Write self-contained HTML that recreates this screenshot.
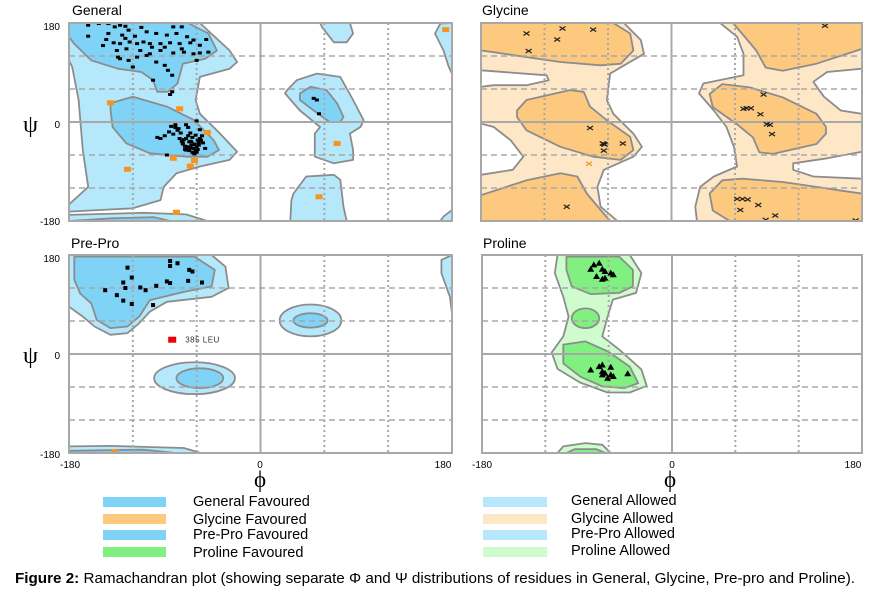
<!DOCTYPE html>
<html><head><meta charset="utf-8">
<style>
html,body{margin:0;padding:0;background:#fff;width:871px;height:590px;overflow:hidden}
svg{display:block;font-family:"Liberation Sans",Arial,sans-serif}
</style></head>
<body>
<svg id="chart" width="871" height="590" viewBox="0 0 871 590" xmlns="http://www.w3.org/2000/svg">
<defs>
<clipPath id="cG"><rect x="69" y="23" width="383" height="198"/></clipPath>
<clipPath id="cY"><rect x="481" y="23" width="381" height="198"/></clipPath>
<clipPath id="cP"><rect x="69" y="255" width="383" height="198"/></clipPath>
<clipPath id="cR"><rect x="482" y="255" width="380" height="198"/></clipPath>
</defs>
<g id="panels"></g>
<g id="labels" font-size="14" fill="#000">
<text x="72" y="15">General</text>
<text x="482" y="15">Glycine</text>
<text x="71" y="248">Pre-Pro</text>
<text x="483" y="248">Proline</text>
<g font-size="10" text-anchor="end">
<text x="60" y="30">180</text>
<text x="60" y="128">0</text>
<text x="60" y="225">-180</text>
<text x="60" y="262">180</text>
<text x="60" y="359">0</text>
<text x="60" y="458">-180</text>
</g>
<g font-size="10" text-anchor="middle">
<text x="70" y="468">-180</text>
<text x="260" y="468">0</text>
<text x="443" y="468">180</text>
<text x="482" y="468">-180</text>
<text x="672" y="468">0</text>
<text x="853" y="468">180</text>
</g>
<text x="23" y="132" font-size="24" font-family="'Liberation Serif',serif">ψ</text>
<text x="23" y="363" font-size="24" font-family="'Liberation Serif',serif">ψ</text>
<text x="260" y="487" font-size="23" text-anchor="middle" font-family="'Liberation Serif',serif">ϕ</text>
<text x="670" y="487" font-size="23" text-anchor="middle" font-family="'Liberation Serif',serif">ϕ</text>
</g>
<g id="legend" font-size="14.5">
<rect x="103" y="497" width="63" height="10" fill="#7fd3f7"/>
<text x="193" y="506">General Favoured</text>
<rect x="103" y="514" width="63" height="10" fill="#fcc97e"/>
<text x="193" y="524">Glycine Favoured</text>
<rect x="103" y="530" width="63" height="10" fill="#7fd3f7"/>
<text x="193" y="539">Pre-Pro Favoured</text>
<rect x="103" y="547" width="63" height="10" fill="#80f080"/>
<text x="193" y="557">Proline Favoured</text>
<rect x="483" y="497" width="64" height="10" fill="#b6e8fc"/>
<text x="571" y="505">General Allowed</text>
<rect x="483" y="514" width="64" height="10" fill="#fee7c6"/>
<text x="571" y="523">Glycine Allowed</text>
<rect x="483" y="530" width="64" height="10" fill="#b6e8fc"/>
<text x="571" y="538">Pre-Pro Allowed</text>
<rect x="483" y="547" width="64" height="10" fill="#cffccc"/>
<text x="571" y="555">Proline Allowed</text>
</g>
<text x="15" y="583" font-size="15" textLength="840" lengthAdjust="spacingAndGlyphs"><tspan font-weight="bold">Figure 2:</tspan> Ramachandran plot (showing separate Φ and Ψ distributions of residues in General, Glycine, Pre-pro and Proline).</text>
</svg>
<script>
// ---------- contour regions (phi, psi in degrees) ----------
const genAllowed = [
 [[-180,180],[-57,180],[-29,130],[-22,109],[-29,97],[-57,82],[-61,40],[-57,15],[-38,-21],[-22,-54],[-29,-69],[-57,-81],[-79,-93],[-91,-118],[-94,-142],[-120,-157],[-151,-160],[-180,-163],[-180,-150],[-162,-118],[-167,-51],[-171,40],[-177,100],[-180,112]],
 [[-180,-169],[-110,-165],[-70,-168],[-50,-180],[-180,-180]],
 [[25,58],[34,76],[53,88],[75,82],[87,40],[97,3],[94,-9],[84,-21],[87,-51],[87,-69],[69,-75],[51,-63],[51,-21],[56,-9],[37,21],[23,52]],
 [[31,-130],[43,-99],[69,-96],[75,-105],[78,-154],[81,-180],[28,-180],[29,-142]],
 [[56,180],[84,180],[87,161],[81,145],[69,145],[58,172]],
 [[180,180],[169,179],[164,161],[172,130],[177,100],[180,88]],
 [[180,-160],[172,-172],[169,-180],[180,-180]]
];
const genFav = [
 [[-180,180],[-68,180],[-49,161],[-41,130],[-52,115],[-73,106],[-78,70],[-87,55],[-97,55],[-101,76],[-112,91],[-134,97],[-159,112],[-175,142],[-180,155]],
 [[-141,34],[-120,46],[-88,28],[-63,4],[-44,-33],[-39,-51],[-50,-63],[-69,-63],[-104,-57],[-126,-39],[-139,-9],[-141,22]],
 [[37,52],[47,64],[62,58],[72,34],[78,9],[75,0],[65,0],[50,21],[37,40]],
 [[-180,-180],[-140,-175],[-100,-173],[-85,-180]]
];
const glyWhite = [
 [[-45,180],[46,180],[62,155],[68,124],[68,85],[30,70],[26,52],[40,21],[52,-9],[59,-45],[62,-81],[40,-99],[27,-118],[22.5,-154],[24,-180],[-51,-180],[-67,-154],[-70,-118],[-64,-87],[-36,-63],[-28,-45],[-36,-21],[-55,15],[-61,40],[-58,88],[-42,106],[-26,124],[-29,149]],
 [[-180,94],[-118,85],[-116,76],[-137,67],[-168,67],[-180,64]],
 [[-180,-3],[-168,-9],[-152,-33],[-140,-63],[-150,-87],[-180,-96]],
 [[180,97],[147,91],[134,73],[144,46],[160,21],[180,15]],
 [[180,-54],[147,-66],[115,-75],[115,-87],[134,-99],[180,-103]]
];
const glyFav = [
 [[-180,180],[-55,180],[-39,161],[-36,130],[-48,106],[-67,103],[-105,109],[-137,118],[-168,127],[-180,130]],
 [[180,-180],[55,-180],[39,-161],[36,-130],[48,-106],[67,-103],[105,-109],[137,-118],[168,-127],[180,-130]],
 [[-146,21],[-137,40],[-96,58],[-83,55],[-77,28],[-61,3],[-39,-27],[-36,-51],[-48,-69],[-74,-63],[-105,-45],[-137,-15],[-146,9]],
 [[146,-21],[137,-40],[96,-58],[83,-55],[77,-28],[61,-3],[39,27],[36,51],[48,69],[74,63],[105,45],[137,15],[146,-9]],
 [[-180,-133],[-137,-106],[-105,-93],[-89,-99],[-80,-130],[-67,-160],[-58,-180],[-180,-180]],
 [[180,133],[137,106],[105,93],[89,99],[80,130],[67,160],[58,180],[180,180]]
];
const preAllowed = [
 [[-180,180],[-46,180],[-33,159],[-30,120],[-46,104],[-88,95],[-104,77],[-114,56],[-125,38],[-141,35],[-156,50],[-167,68],[-180,86]],
 [[180,180],[170,171],[170,147],[178,104],[180,74]],
 [[-180,-168],[-141,-167],[-72,-171],[-56,-180],[-180,-180]]
];
const preFav = [
 [[-175,177],[-62,177],[-43,153],[-46,123],[-72,113],[-104,98],[-114,68],[-125,50],[-141,47],[-154,62],[-159,92],[-169.5,110],[-175,135]],
 [[-180,-176],[-110,-174],[-80,-180],[-180,-180]]
];
const preAllowedEll = [[47,61,29,29],[-62,-44,38,29]];
const preFavEll = [[47,61,16,13],[-57,-44,22,18]];
const proAllowed = [
 [[-108.5,180],[-40,180],[-29,147],[-34,111],[-56,99],[-61,68],[-66,32],[-50,8],[-29,-28],[-24,-58],[-40,-70],[-61,-70],[-87,-52],[-108.5,-27],[-114,3],[-103,32],[-98,68],[-103,104],[-111,147]],
 [[-108.5,-180],[-103,-168],[-82,-162],[-66,-165],[-58,-180]]
];
const proFav = [
 [[-100,177],[-50,177],[-37,153],[-37,123],[-50,111],[-77,109],[-95,123],[-100,153]],
 [[-103,17],[-82,23],[-61,5],[-40,-23],[-32,-53],[-45,-62],[-66,-59],[-87,-41],[-103,-17],[-103,7]],
 [[-100,-180],[-92,-173],[-72,-173],[-63,-180]]
];
const proFavEll = [[-82,65,13,18]];

// ---------- residues (phi, psi) ----------
const genPhi = [-162,-152,-143,-162,-137,-127,-112,-82,-74,-143,-130,-124,-118,-107,-98,-88,-79,-69,-63,-51,-145,-138,-132,-123,-116,-110,-104,-94,-85,-76,-66,-57,-49,-135,-126,-113,-104,-94,-82,-72,-63,-57,-132,-124,-116,-107,-98,-90,-87,-83,-60,-120,-101,-83,-134,-127,-102,-90,-74,-148,-143,-132,
 -70,-66,-62,-60,-58,-64,-68,-72,-75,-78,-80,-55,-56,-59,-61,-63,-65,-67,-69,-71,-73,-76,-82,-86,-90,-94,-97,-60,-62,-64,-66,-68,-70,-58,-54,-52,-57,-61,-65,-69,-73,-77,-84,-88,-63,-67,-71,-59,-62,-66,-70,-74,-80,-60,-57,-85,
 50,53,55,65];
const genPsi = [176,179,179,156,173,174,172,173,173,161,158,167,156,164,161,158,161,155,149,150,150,144,142.5,145.5,142.5,145.5,142.5,142.5,144,142.5,144,139.5,127,130,133,130,124,130,125.5,127,124,125.5,115,112,118,121,109,103,94,85,112,100,76,55,118,152,136,136,133,139,179,176,
 -30,-35,-40,-45,-38,-28,-25,-32,-20,-15,-10,-25,-33,-50,-52,-48,-42,-36,-45,-50,-40,-30,-22,-18,-25,-30,-28,-55,-58,-55,-20,-10,-5,-42,-38,-48,-30,-24,-36,-46,-38,-12,-8,-60,-56,-52,-44,-33,-41,-47,-51,-35,-5,2,-14,
 50,43,40,15];
const genOutPhi = [-141,-76,-50,72,-82,-62,-66,-125,55,-79,174];
const genOutPsi = [35,24,-19,-39,-66,-70,-80,-86,-136,-164,168];
const glyPhi = [-137,-103,-74,-108,-135,-77,-65,-63,-64,-46,-64,-99,87,71,75,68,84,90,93,95,145,62,67,72,82,65,98,89,174];
const glyPsi = [161,170,168,150,129,-11,-39,-41,-40,-39,-52,-154,50,25,25,24,14,-4,-5,-22,175,-140,-140,-141,-151,-160,-170,-178,-179];
const glyOutPhi = [-78];
const glyOutPsi = [-76];
const prePhi = [-125,-85,-78,-85,-67,-64,-121,-129,-88,-85,-68,-55,-146,-127,-113,-108,-98,-135,-129,-121,-101];
const prePsi = [157,169,165,160,153,150,139,130,132,129,133,130,116,120,121,116,124,107,97,91,89];
const preOutPhi = [-137];
const preOutPsi = [-179];
const preFlagPhi = [-83];
const preFlagPsi = [26];
const preFlagLabels = ["385 LEU"];
const proPhi = [-74,-69,-77,-66,-63.5,-58,-55.6,-71.5,-66,-63.5,-66,-69,-58,-77,-66,-63.5,-58,-55.6,-61,-42,-66];
const proPsi = [162,165,154,154,150,147,144,141,136,138,-20,-23,-24,-29,-32,-35,-38,-41,-44,-36,-38];

const NS = "http://www.w3.org/2000/svg";
const root = document.getElementById("panels");
function mk(tag, attrs, parent) {
  const e = document.createElementNS(NS, tag);
  for (const k in attrs) e.setAttribute(k, attrs[k]);
  (parent || root).appendChild(e);
  return e;
}
function axes(x0, y0, w, h) {
  return {
    x: phi => x0 + (phi + 180) / 360 * w,
    y: psi => y0 + (180 - psi) / 360 * h,
    x0, y0, w, h
  };
}
const STROKE = "#8c8c8c";
function polys(g, ax, list, fill, name) {
  list.forEach((pts, i) => {
    const p = mk("polygon", {points: pts.map(d => ax.x(d[0]).toFixed(1) + "," + ax.y(d[1]).toFixed(1)).join(" "), fill: fill, stroke: STROKE, "stroke-width": 1.8, "stroke-linejoin": "round"}, g);
    
    
  });
}
function ells(g, ax, list, fill, name) {
  list.forEach((e, i) => {
    const el = mk("ellipse", {cx: ax.x(e[0]), cy: ax.y(e[1]), rx: e[2] / 360 * ax.w, ry: e[3] / 360 * ax.h, fill: fill, stroke: STROKE, "stroke-width": 1.8}, g);
    
    
  });
}
function grid(g, ax) {
  [-120, -60, 60, 120].forEach(v => {
    const l = mk("line", {x1: ax.x(v), x2: ax.x(v), y1: ax.y0, y2: ax.y0 + ax.h, stroke: "#a8a8a8", "stroke-width": 2, "stroke-dasharray": "2,3"}, g);
    
    
    const m = mk("line", {x1: ax.x0, x2: ax.x0 + ax.w, y1: ax.y(v), y2: ax.y(v), stroke: "#a8a8a8", "stroke-width": 1.5, "stroke-dasharray": "6,4"}, g);
    
    
  });
  const a = mk("line", {x1: ax.x(0), x2: ax.x(0), y1: ax.y0, y2: ax.y0 + ax.h, stroke: "#a8a8a8", "stroke-width": 2}, g);
  
  
  const b = mk("line", {x1: ax.x0, x2: ax.x0 + ax.w, y1: ax.y(0), y2: ax.y(0), stroke: "#a8a8a8", "stroke-width": 2}, g);
  
  
}
function border(ax, name) {
  const r = mk("rect", {x: ax.x0, y: ax.y0, width: ax.w, height: ax.h, fill: "none", stroke: "#a8a8a8", "stroke-width": 2});
  
  
}
function squares(g, ax, P, Q, w, h, fill, name) {
  P.forEach((phi, i) => {
    const r = mk("rect", {x: ax.x(phi) - w / 2, y: ax.y(Q[i]) - h / 2, width: w, height: h, fill: fill}, g);
    
    
  });
}
function crosses(g, ax, P, Q, col, name) {
  P.forEach((phi, i) => {
    const cx = ax.x(phi), cy = ax.y(Q[i]);
    const c = mk("path", {d: `M${cx-3},${cy-2}L${cx+3},${cy+2}M${cx-3},${cy+2}L${cx+3},${cy-2}`, stroke: col, "stroke-width": 1.2, fill: "none"}, g);
    
    
  });
}
function tris(g, ax, P, Q, name) {
  P.forEach((phi, i) => {
    const cx = ax.x(phi), cy = ax.y(Q[i]);
    const t = mk("polygon", {points: `${cx},${cy-3.5} ${cx+3.5},${cy+2.5} ${cx-3.5},${cy+2.5}`, fill: "#000"}, g);
    
    
  });
}

// General
const aG = axes(69, 23, 383, 198);
const gG = mk("g", {"clip-path": "url(#cG)"});


polys(gG, aG, genAllowed, "#b6e8fc", "general-allowed-region");
polys(gG, aG, genFav, "#7fd3f7", "general-favoured-region");
grid(gG, aG);
squares(gG, aG, genPhi, genPsi, 4, 3, "#000", "general-residue");
squares(gG, aG, genOutPhi, genOutPsi, 7, 5, "#f7941d", "general-outlier-residue");
border(aG, "general");

// Glycine
const aY = axes(481, 23, 381, 198);
const gY = mk("g", {"clip-path": "url(#cY)"});


const bgY = mk("rect", {x: 481, y: 23, width: 381, height: 198, fill: "#fee7c6"}, gY);


polys(gY, aY, glyWhite, "#ffffff", "glycine-disallowed-region");
polys(gY, aY, glyFav, "#fcc97e", "glycine-favoured-region");
grid(gY, aY);
crosses(gY, aY, glyPhi, glyPsi, "#222", "glycine-residue");
crosses(gY, aY, glyOutPhi, glyOutPsi, "#f7941d", "glycine-outlier-residue");
border(aY, "glycine");

// Pre-Pro
const aP = axes(69, 255, 383, 198);
const gP = mk("g", {"clip-path": "url(#cP)"});


polys(gP, aP, preAllowed, "#b6e8fc", "prepro-allowed-region");
ells(gP, aP, preAllowedEll, "#b6e8fc", "prepro-allowed-island");
polys(gP, aP, preFav, "#7fd3f7", "prepro-favoured-region");
ells(gP, aP, preFavEll, "#7fd3f7", "prepro-favoured-island");
grid(gP, aP);
squares(gP, aP, prePhi, prePsi, 4, 4, "#000", "prepro-residue");
squares(gP, aP, preOutPhi, preOutPsi, 7, 6, "#f7941d", "prepro-outlier-residue");
squares(gP, aP, preFlagPhi, preFlagPsi, 8, 6, "#e8000b", "prepro-flagged-residue");
preFlagPhi.forEach((phi, i) => {
  const t = mk("text", {x: aP.x(phi) + 13, y: aP.y(preFlagPsi[i]) + 3, "font-size": 8, fill: "#333", "letter-spacing": "0.5"}, gP);
  t.textContent = preFlagLabels[i];
  
  
});
border(aP, "prepro");

// Proline
const aR = axes(482, 255, 380, 198);
const gR = mk("g", {"clip-path": "url(#cR)"});


polys(gR, aR, proAllowed, "#cffccc", "proline-allowed-region");
polys(gR, aR, proFav, "#80f080", "proline-favoured-region");
ells(gR, aR, proFavEll, "#80f080", "proline-favoured-island");
grid(gR, aR);
tris(gR, aR, proPhi, proPsi, "proline-residue");
border(aR, "proline");
</script>
</body></html>
